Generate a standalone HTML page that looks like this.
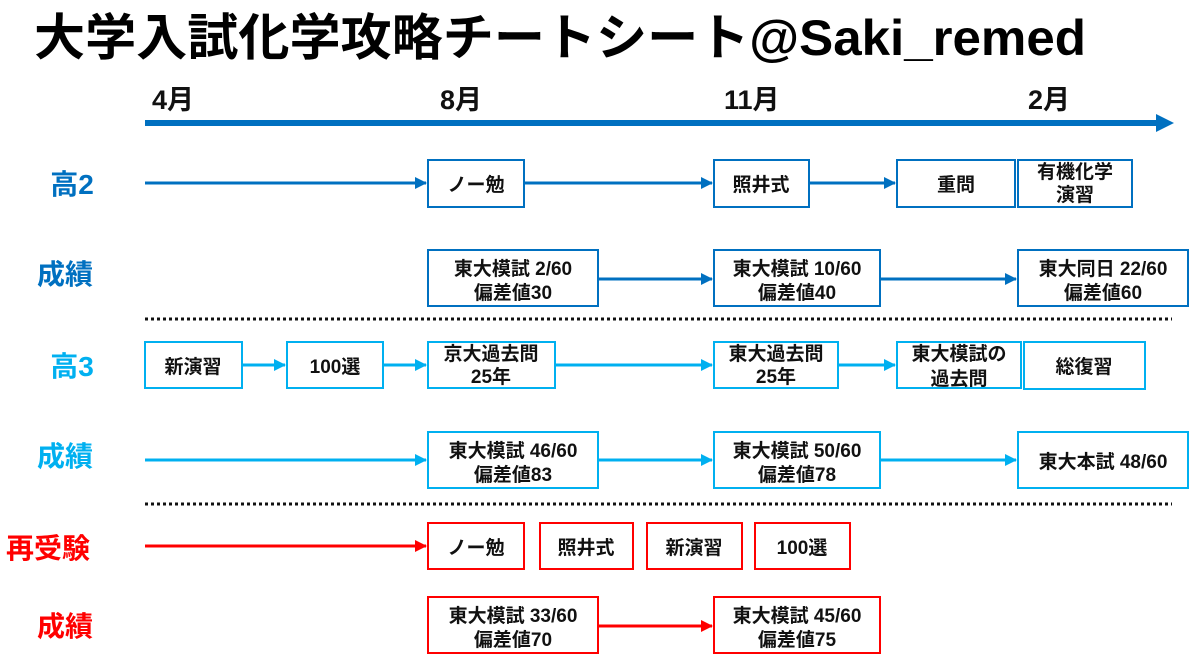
<!DOCTYPE html>
<html><head><meta charset="utf-8"><style>
html,body{margin:0;padding:0;background:#fff;}
svg{display:block;font-family:"Liberation Sans","Noto Sans CJK JP",sans-serif;}
.t{font-size:19px;text-anchor:middle;fill:#111;font-weight:bold;}
.d{stroke:#0070C0;fill:#fff}
.l{stroke:#00B0F0;fill:#fff}
.r{stroke:#FF0000;fill:#fff}
.lab{font-size:28px;font-weight:bold;text-anchor:middle;}
</style></head><body>
<svg width="1200" height="668" viewBox="0 0 1200 668">
<defs>
<marker id="ad" markerWidth="12" markerHeight="12" refX="11" refY="6" orient="auto" markerUnits="userSpaceOnUse"><path d="M0,0 L12,6 L0,12z" fill="#0070C0"/></marker>
<marker id="al" markerWidth="12" markerHeight="12" refX="11" refY="6" orient="auto" markerUnits="userSpaceOnUse"><path d="M0,0 L12,6 L0,12z" fill="#00B0F0"/></marker>
<marker id="ar" markerWidth="12" markerHeight="12" refX="11" refY="6" orient="auto" markerUnits="userSpaceOnUse"><path d="M0,0 L12,6 L0,12z" fill="#FF0000"/></marker>
</defs>
<text x="34" y="55" font-size="50" font-weight="bold" fill="#000" textLength="1052" lengthAdjust="spacingAndGlyphs">大学入試化学攻略チートシート@Saki_remed</text>
<g font-size="27" font-weight="bold" fill="#111">
<text x="152" y="109">4月</text><text x="440" y="109">8月</text><text x="724" y="109">11月</text><text x="1028" y="109">2月</text>
</g>
<line x1="145" y1="123" x2="1160" y2="123" stroke="#0070C0" stroke-width="6"/>
<path d="M1156,114 L1174,123 L1156,132z" fill="#0070C0"/>

<g class="lab">
<text x="72" y="194" fill="#0070C0">高2</text>
<text x="65" y="284" fill="#0070C0">成績</text>
<text x="72" y="376" fill="#00B0F0">高3</text>
<text x="65" y="466" fill="#00B0F0">成績</text>
<text x="48" y="558" fill="#FF0000">再受験</text>
<text x="65" y="636" fill="#FF0000">成績</text>
</g>

<g stroke-width="3">
<line x1="145" y1="183" x2="426" y2="183" stroke="#0070C0" marker-end="url(#ad)"/>
<line x1="524" y1="183" x2="712" y2="183" stroke="#0070C0" marker-end="url(#ad)"/>
<line x1="809" y1="183" x2="895" y2="183" stroke="#0070C0" marker-end="url(#ad)"/>
<line x1="598" y1="279" x2="712" y2="279" stroke="#0070C0" marker-end="url(#ad)"/>
<line x1="880" y1="279" x2="1016" y2="279" stroke="#0070C0" marker-end="url(#ad)"/>
<line x1="242" y1="365" x2="285" y2="365" stroke="#00B0F0" marker-end="url(#al)"/>
<line x1="383" y1="365" x2="426" y2="365" stroke="#00B0F0" marker-end="url(#al)"/>
<line x1="555" y1="365" x2="712" y2="365" stroke="#00B0F0" marker-end="url(#al)"/>
<line x1="838" y1="365" x2="895" y2="365" stroke="#00B0F0" marker-end="url(#al)"/>
<line x1="145" y1="460" x2="426" y2="460" stroke="#00B0F0" marker-end="url(#al)"/>
<line x1="598" y1="460" x2="712" y2="460" stroke="#00B0F0" marker-end="url(#al)"/>
<line x1="880" y1="460" x2="1016" y2="460" stroke="#00B0F0" marker-end="url(#al)"/>
<line x1="145" y1="546" x2="426" y2="546" stroke="#FF0000" marker-end="url(#ar)"/>
<line x1="598" y1="626" x2="712" y2="626" stroke="#FF0000" marker-end="url(#ar)"/>
</g>

<line x1="145" y1="319" x2="1172" y2="319" stroke="#111" stroke-width="3" stroke-dasharray="3,3"/>
<line x1="145" y1="504" x2="1172" y2="504" stroke="#111" stroke-width="3" stroke-dasharray="3,3"/>

<g stroke-width="2">
<rect class="d" x="428" y="160" width="96" height="47"/>
<rect class="d" x="714" y="160" width="95" height="47"/>
<rect class="d" x="897" y="160" width="118" height="47"/>
<rect class="d" x="1018" y="160" width="114" height="47"/>
<rect class="d" x="428" y="250" width="170" height="56"/>
<rect class="d" x="714" y="250" width="166" height="56"/>
<rect class="d" x="1018" y="250" width="170" height="56"/>
<rect class="l" x="145" y="342" width="97" height="46"/>
<rect class="l" x="287" y="342" width="96" height="46"/>
<rect class="l" x="428" y="342" width="127" height="46"/>
<rect class="l" x="714" y="342" width="124" height="46"/>
<rect class="l" x="897" y="342" width="124" height="46"/>
<rect class="l" x="1024" y="342" width="121" height="47"/>
<rect class="l" x="428" y="432" width="170" height="56"/>
<rect class="l" x="714" y="432" width="166" height="56"/>
<rect class="l" x="1018" y="432" width="170" height="56"/>
<rect class="r" x="428" y="523" width="96" height="46"/>
<rect class="r" x="540" y="523" width="93" height="46"/>
<rect class="r" x="647" y="523" width="95" height="46"/>
<rect class="r" x="755" y="523" width="95" height="46"/>
<rect class="r" x="428" y="597" width="170" height="56"/>
<rect class="r" x="714" y="597" width="166" height="56"/>
</g>

<g class="t">
<text x="476" y="191">ノー勉</text>
<text x="761" y="191">照井式</text>
<text x="956" y="191">重問</text>
<text x="1075" y="178">有機化学</text><text x="1075" y="201">演習</text>
<text x="513" y="275">東大模試 2/60</text><text x="513" y="299">偏差値30</text>
<text x="797" y="275">東大模試 10/60</text><text x="797" y="299">偏差値40</text>
<text x="1103" y="275">東大同日 22/60</text><text x="1103" y="299">偏差値60</text>
<text x="193" y="373">新演習</text>
<text x="335" y="373">100選</text>
<text x="491" y="360">京大過去問</text><text x="491" y="383">25年</text>
<text x="776" y="360">東大過去問</text><text x="776" y="383">25年</text>
<text x="959" y="360">東大模試の</text><text x="959" y="385">過去問</text>
<text x="1084" y="373">総復習</text>
<text x="513" y="457">東大模試 46/60</text><text x="513" y="481">偏差値83</text>
<text x="797" y="457">東大模試 50/60</text><text x="797" y="481">偏差値78</text>
<text x="1103" y="468">東大本試 48/60</text>
<text x="476" y="554">ノー勉</text>
<text x="586" y="554">照井式</text>
<text x="694" y="554">新演習</text>
<text x="802" y="554">100選</text>
<text x="513" y="622">東大模試 33/60</text><text x="513" y="646">偏差値70</text>
<text x="797" y="622">東大模試 45/60</text><text x="797" y="646">偏差値75</text>
</g>
</svg>
</body></html>
